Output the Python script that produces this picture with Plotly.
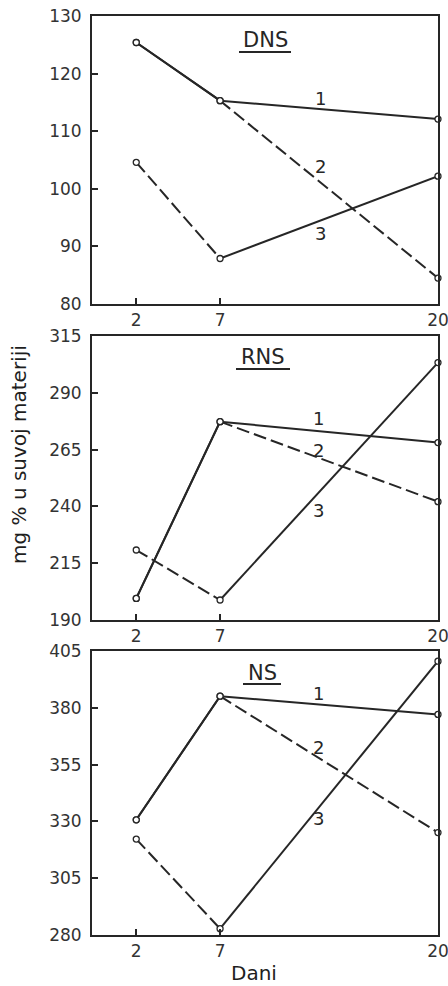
import plotly.graph_objects as go

days = [2, 7, 20]
tick_days = [2, 7, 20]

dns_1 = [125.4, 115.3, 112.1]
dns_2 = [125.4, 115.3, 84.5]
dns_3 = [104.6, 87.9, 102.2]

rns_1 = [199.5, 277.3, 268.1]
rns_2 = [199.5, 277.3, 242.1]
rns_3 = [220.8, 198.8, 303.3]

ns_1 = [330.7, 385.1, 377.1]
ns_2 = [330.7, 385.1, 325.1]
ns_3 = [322.2, 282.8, 400.5]

panel_names = ["DNS", "RNS", "NS"]
series_names = ["1", "2", "3"]
y_ticks = [
    [80, 90, 100, 110, 120, 130],
    [190, 215, 240, 265, 290, 315],
    [280, 305, 330, 355, 380, 405],
]
panels = [[dns_1, dns_2, dns_3], [rns_1, rns_2, rns_3], [ns_1, ns_2, ns_3]]

# segment dash styles for each series: (2->7, 7->20)
DASH = "13px,5px"
seg_dash = [["solid", "solid"], ["solid", DASH], [DASH, "solid"]]

INK = "#262626"
FONT = "DejaVu Sans"

W, H = 448, 986
AX_L, AX_R = 92, 438  # px of plot area
ml, mr = AX_L, W - AX_R
mt, mb = 16, H - 935
plot_w = W - ml - mr
plot_h = H - mt - mb


def px(xp):
    return (xp - AX_L) / plot_w


def py(yp):
    return (H - mb - yp) / plot_h


# panel pixel extents (top, bottom)
pix = [(16, 304), (336, 620), (651, 935)]
domains = [[py(b), py(t)] for t, b in pix]

fig = go.Figure()

for p, series in enumerate(panels):
    xa = "x" if p == 0 else f"x{p+1}"
    ya = "y" if p == 0 else f"y{p+1}"
    for s, vals in enumerate(series):
        for k in range(2):
            fig.add_trace(go.Scatter(
                x=days[k:k + 2], y=vals[k:k + 2], mode="lines",
                line=dict(color=INK, width=2, dash=seg_dash[s][k]),
                xaxis=xa, yaxis=ya, showlegend=False, hoverinfo="skip",
                cliponaxis=False,
            ))
    for s, vals in enumerate(series):
        fig.add_trace(go.Scatter(
            x=days, y=vals, mode="markers",
            marker=dict(symbol="circle", size=6, color="white",
                        line=dict(color=INK, width=1.3)),
            xaxis=xa, yaxis=ya, showlegend=False, cliponaxis=False,
        ))

layout = dict(
    width=W, height=H, autosize=False,
    margin=dict(l=ml, r=mr, t=mt, b=mb, autoexpand=False),
    paper_bgcolor="white", plot_bgcolor="white",
    font=dict(family=FONT, color=INK, size=17),
    annotations=[],
    shapes=[],
)

label_pos = [
    [(320, 98), (320, 167), (320, 233)],
    [(318, 418), (318, 450), (318, 510)],
    [(318, 693), (318, 747), (318, 818)],
]
# (center x, center y, underline y, underline half width, font size)
title_pos = [(265, 40, 52, 26, 21), (263, 357, 369, 27, 21), (262, 673, 684, 19, 21)]

for p in range(3):
    sfx = "" if p == 0 else str(p + 1)
    layout["xaxis" + sfx] = dict(
        domain=[0, 1], anchor="y" + sfx, range=[-0.64, 20.001],
        tickmode="array", tickvals=tick_days, ticktext=[str(d) for d in tick_days],
        ticks="inside", ticklen=6, tickwidth=1.5, tickcolor=INK,
        showline=True, linecolor=INK, linewidth=1.8, mirror=True,
        showgrid=False, zeroline=False, tickfont=dict(size=17, color="#333"),
        ticklabeloverflow="allow", automargin=False,
    )
    lo, hi = y_ticks[p][0], y_ticks[p][-1]
    layout["yaxis" + sfx] = dict(
        domain=domains[p], anchor="x" + sfx, range=[lo, hi],
        tickmode="array", tickvals=y_ticks[p],
        ticks="inside", ticklen=6, tickwidth=1.5, tickcolor=INK,
        showline=True, linecolor=INK, linewidth=1.8, mirror=True,
        showgrid=False, zeroline=False, tickfont=dict(size=17, color="#333"),
        ticklabelstandoff=5, ticklabeloverflow="allow", automargin=False,
    )
    tx, ty, uy, hw, fs = title_pos[p]
    layout["annotations"].append(dict(
        text=panel_names[p], xref="paper", yref="paper",
        x=px(tx), y=py(ty), showarrow=False, font=dict(size=fs, color=INK),
        xanchor="center", yanchor="middle",
    ))
    layout["shapes"].append(dict(
        type="line", xref="paper", yref="paper",
        x0=px(tx - hw), x1=px(tx + hw), y0=py(uy), y1=py(uy),
        line=dict(color=INK, width=2),
    ))
    for s in range(3):
        lx, ly = label_pos[p][s]
        layout["annotations"].append(dict(
            text=series_names[s], xref="paper", yref="paper",
            x=px(lx), y=py(ly), showarrow=False,
            font=dict(size=18, color=INK), xanchor="center", yanchor="middle",
        ))

layout["annotations"].append(dict(
    text="mg % u suvoj materiji", xref="paper", yref="paper",
    x=px(19), y=py(455), textangle=-90, showarrow=False,
    font=dict(size=20, color="#1e1e1e"), xanchor="center", yanchor="middle",
))
layout["annotations"].append(dict(
    text="Dani", xref="paper", yref="paper",
    x=px(254), y=py(973), showarrow=False,
    font=dict(size=20, color="#1e1e1e"), xanchor="center", yanchor="middle",
))

fig.update_layout(**layout)
fig.write_html(
    "out.html",
    config={"displayModeBar": False},
    post_script="document.body.style.margin='0';document.body.style.overflow='hidden';",
)
